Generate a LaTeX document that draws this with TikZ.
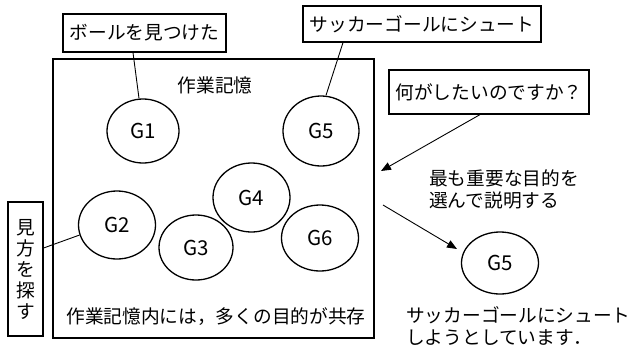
\documentclass[tikz,border=0pt]{standalone}
\usepackage{fontspec}
\setmainfont{Noto Sans CJK JP}
\usetikzlibrary{shapes.geometric,arrows.meta,calc}
\tikzset{
  every node/.style={font=\fontsize{18.7}{22}\selectfont, inner sep=0pt},
  lbox/.style={draw, line width=1.2pt, minimum width=#1},
  goal/.style={draw, ellipse, line width=1.3pt, font=\fontsize{20.5}{22}\selectfont},
  conn/.style={line width=0.9pt},
  arr/.style={line width=0.9pt, -{Triangle[length=10pt,width=8pt]}},
}
\begin{document}
\begin{tikzpicture}[x=1pt,y=-1pt]
\useasboundingbox (0,0) rectangle (630,349);
% working memory box
\node[draw, line width=1.3pt, minimum width=321pt, minimum height=279pt] (wm) at (213.5,198.5) {};
\node (wmt) at (215,85) {作業記憶};
\node (wmb) at (216,317) {作業記憶内には，多くの目的が共存};
% label boxes
\node[lbox=163pt, minimum height=38pt] (ball) at (144.5,33) {ボールを見つけた};
\node[lbox=238pt, minimum height=36pt] (soccer) at (422,24) {サッカーゴールにシュート};
\node[lbox=200pt, minimum height=44pt] (what) at (489,92) {何がしたいのですか？};
\node[lbox=35pt, minimum height=134pt, align=center, font=\fontsize{18.7}{21}\selectfont] (mikata) at (25.5,269) {見\\方\\を\\探\\す};
% goals
\node[goal, minimum width=72pt, minimum height=64pt] (G1) at (143,131) {G1};
\node[goal, minimum width=76pt, minimum height=70pt] (G5) at (321,131) {G5};
\node[goal, minimum width=77pt, minimum height=68pt] (G2) at (117,225) {G2};
\node[goal, minimum width=77pt, minimum height=69pt] (G4) at (251.5,197.5) {G4};
\node[goal, minimum width=74pt, minimum height=65pt] (G3) at (196,247.5) {G3};
\node[goal, minimum width=77pt, minimum height=66pt] (G6) at (320,238) {G6};
\node[goal, minimum width=77pt, minimum height=62pt] (G5o) at (500,263) {G5};
% right texts
\node[anchor=west, align=left] (sel) at (429,189) {最も重要な目的を\\選んで説明する};
\node[anchor=west, align=left] (res) at (406,326) {サッカーゴールにシュート\\しようとしています．};
% connectors
\draw[conn] ([xshift=-11.5pt]ball.south) -- ([xshift=-4pt]G1.north);
\draw[conn] ([xshift=-79pt]soccer.south) -- ([xshift=5pt]G5.north);
\draw[conn] ([yshift=21pt]mikata.east) -- (G2.195);
\coordinate (t1) at (381,171);
\coordinate (s2) at (383,205);
\coordinate (t2) at (457,249);
\draw[arr] ([xshift=-9pt]what.south) -- (t1);
\draw[arr] (s2) -- (t2);
\end{tikzpicture}
\end{document}
